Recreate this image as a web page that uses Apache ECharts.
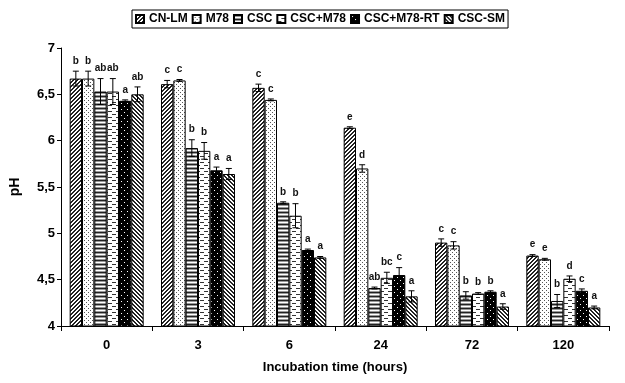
<!DOCTYPE html>
<html>
<head>
<meta charset="utf-8">
<script src="https://cdn.jsdelivr.net/npm/echarts@6/dist/echarts.min.js"></script>
<style>
html,body{margin:0;padding:0;background:#fff;}
#chart{width:625px;height:383px;}
</style>
</head>
<body>
<div id="chart"></div>
<script>
// ---- data ----
const categories = ['0', '3', '6', '24', '72', '120'];
const seriesNames = ['CN-LM', 'M78', 'CSC', 'CSC+M78', 'CSC+M78-RT', 'CSC-SM'];

const valCNLM   = [6.67, 6.61, 6.57, 6.14, 4.90, 4.76];
const valM78    = [6.67, 6.65, 6.44, 5.70, 4.87, 4.72];
const valCSC    = [6.53, 5.92, 5.33, 4.41, 4.33, 4.27];
const valCSCM78 = [6.53, 5.89, 5.19, 4.52, 4.35, 4.51];
const valRT     = [6.43, 5.68, 4.82, 4.55, 4.37, 4.38];
const valSM     = [6.50, 5.64, 4.74, 4.32, 4.21, 4.20];

const errCNLM   = [0.08, 0.04, 0.04, 0.01, 0.04, 0.01];
const errM78    = [0.08, 0.01, 0.01, 0.04, 0.04, 0.01];
const errCSC    = [0.14, 0.09, 0.01, 0.01, 0.04, 0.07];
const errCSCM78 = [0.14, 0.09, 0.13, 0.06, 0.01, 0.03];
const errRT     = [0.01, 0.035, 0.01, 0.08, 0.01, 0.02];
const errSM     = [0.08, 0.06, 0.01, 0.06, 0.03, 0.015];

const letCNLM   = ['b', 'c', 'c', 'e', 'c', 'e'];
const letM78    = ['b', 'c', 'c', 'd', 'c', 'e'];
const letCSC    = ['ab', 'b', 'b', 'ab', 'b', 'b'];
const letCSCM78 = ['ab', 'b', 'b', 'bc', 'b', 'd'];
const letRT     = ['a', 'a', 'a', 'c', 'b', 'c'];
const letSM     = ['ab', 'a', 'a', 'a', 'a', 'a'];

const yTicks = [4, 4.5, 5, 5.5, 6, 6.5, 7];

const allVals = [valCNLM, valM78, valCSC, valCSCM78, valRT, valSM];
const allErrs = [errCNLM, errM78, errCSC, errCSCM78, errRT, errSM];
const allLets = [letCNLM, letM78, letCSC, letCSCM78, letRT, letSM];

// ---- patterns ----
function pat(w, h, bg, fn) {
  const c = document.createElement('canvas');
  c.width = w; c.height = h;
  const g = c.getContext('2d');
  g.fillStyle = bg; g.fillRect(0, 0, w, h);
  fn(g);
  return { image: c, repeat: 'repeat' };
}
function px(g, col, x, y, w, h) { g.fillStyle = col; g.fillRect(x, y, w || 1, h || 1); }

const patterns = [
  // CN-LM: upward diagonal ////
  pat(4, 4, '#fff', g => { for (let y = 0; y < 4; y++) for (let x = 0; x < 4; x++) { const k = (x + y) % 4; if (k === 0 || k === 1) px(g, '#222', x, y); } }),
  // M78: fine dots
  pat(4, 4, '#fff', g => { px(g, '#555', 0, 0); px(g, '#555', 2, 2); }),
  // CSC: horizontal stripes
  pat(2, 4, '#fff', g => { px(g, '#222', 0, 0, 2, 1); px(g, '#999', 0, 1, 2, 1); px(g, '#999', 0, 3, 2, 1); }),
  // CSC+M78: dashed horizontal
  pat(8, 6, '#fff', g => { px(g, '#333', 0, 0, 4, 1); px(g, '#333', 4, 3, 4, 1); }),
  // CSC+M78-RT: black with white dots
  pat(6, 6, '#000', g => { px(g, '#fff', 1, 1); px(g, '#fff', 4, 4); }),
  // CSC-SM: downward diagonal \\\\
  pat(4, 4, '#fff', g => { for (let y = 0; y < 4; y++) for (let x = 0; x < 4; x++) { const k = ((x - y) % 4 + 4) % 4; if (k === 0 || k === 1) px(g, '#222', x, y); } })
];

const CAT_GAP = 0.19;
const FONT = 'Liberation Sans, Arial, sans-serif';

function errRender(si) {
  return function (params, api) {
    const cat = api.value(0), v = api.value(1), e = api.value(2);
    const band = api.size([1, 0])[0];
    const bw = band * (1 - CAT_GAP) / seriesNames.length;
    const cx = api.coord([cat, v])[0] + (si - (seriesNames.length - 1) / 2) * bw;
    const yTop = api.coord([cat, v + e])[1];
    const yBot = api.coord([cat, v - e])[1];
    const cap = 3;
    const st = { stroke: '#000', lineWidth: 1 };
    return {
      type: 'group',
      children: [
        { type: 'line', shape: { x1: cx, y1: yTop, x2: cx, y2: yBot }, style: st },
        { type: 'line', shape: { x1: cx - cap, y1: yTop, x2: cx + cap, y2: yTop }, style: st },
        { type: 'line', shape: { x1: cx - cap, y1: yBot, x2: cx + cap, y2: yBot }, style: st },
        { type: 'text', style: { text: allLets[si][params.dataIndex], x: cx, y: yTop - 5, align: 'center', verticalAlign: 'bottom', font: 'bold 10px ' + FONT, fill: '#111' } }
      ]
    };
  };
}

const series = [];
seriesNames.forEach((name, i) => {
  series.push({
    name: name,
    type: 'bar',
    data: allVals[i],
    barGap: '0%',
    barCategoryGap: (CAT_GAP * 100) + '%',
    itemStyle: { color: patterns[i], borderColor: '#000', borderWidth: 1 },
    emphasis: { disabled: true },
    animation: false
  });
});
seriesNames.forEach((name, i) => {
  series.push({
    name: name + ' err',
    type: 'custom',
    renderItem: errRender(i),
    data: allVals[i].map((v, j) => [j, v, allErrs[i][j]]),
    z: 10,
    clip: false,
    animation: false,
    silent: true
  });
});

const chart = echarts.init(document.getElementById('chart'), null, { renderer: 'canvas' });
chart.setOption({
  animation: false,
  backgroundColor: '#fff',
  textStyle: { fontFamily: FONT },
  legend: {
    data: seriesNames,
    left: 132, top: 10,
    padding: [3, 3],
    itemWidth: 8, itemHeight: 8, itemGap: 4,
    icon: 'rect',
    borderColor: '#000', borderWidth: 1,
    textStyle: { fontFamily: FONT, fontWeight: 'bold', fontSize: 12, color: '#000' },
    selectedMode: false
  },
  grid: { left: 54, right: 16, top: 48, bottom: 57, containLabel: false },
  xAxis: {
    type: 'category',
    data: categories,
    name: 'Incubation time (hours)',
    nameLocation: 'middle',
    nameGap: 35,
    nameTextStyle: { fontFamily: FONT, fontWeight: 'bold', fontSize: 13, color: '#000' },
    axisLine: { lineStyle: { color: '#000', width: 1 } },
    axisTick: { show: true, length: 5, alignWithLabel: false, lineStyle: { color: '#000' } },
    axisLabel: { margin: 13, fontFamily: FONT, fontWeight: 'bold', fontSize: 13, color: '#000' },
    splitLine: { show: false }
  },
  yAxis: {
    type: 'value',
    min: yTicks[0], max: yTicks[yTicks.length - 1], interval: 0.5,
    name: 'pH',
    nameLocation: 'middle',
    nameGap: 39,
    nameRotate: 90,
    nameTextStyle: { fontFamily: FONT, fontWeight: 'bold', fontSize: 14, color: '#000' },
    axisLine: { show: true, lineStyle: { color: '#000', width: 1 } },
    axisTick: { show: true, length: 4, lineStyle: { color: '#000' } },
    axisLabel: { margin: 6, fontFamily: FONT, fontWeight: 'bold', fontSize: 13, color: '#000',
      formatter: v => String(v).replace('.', ',') },
    splitLine: { show: false }
  },
  series: series
});
</script>
</body>
</html>
